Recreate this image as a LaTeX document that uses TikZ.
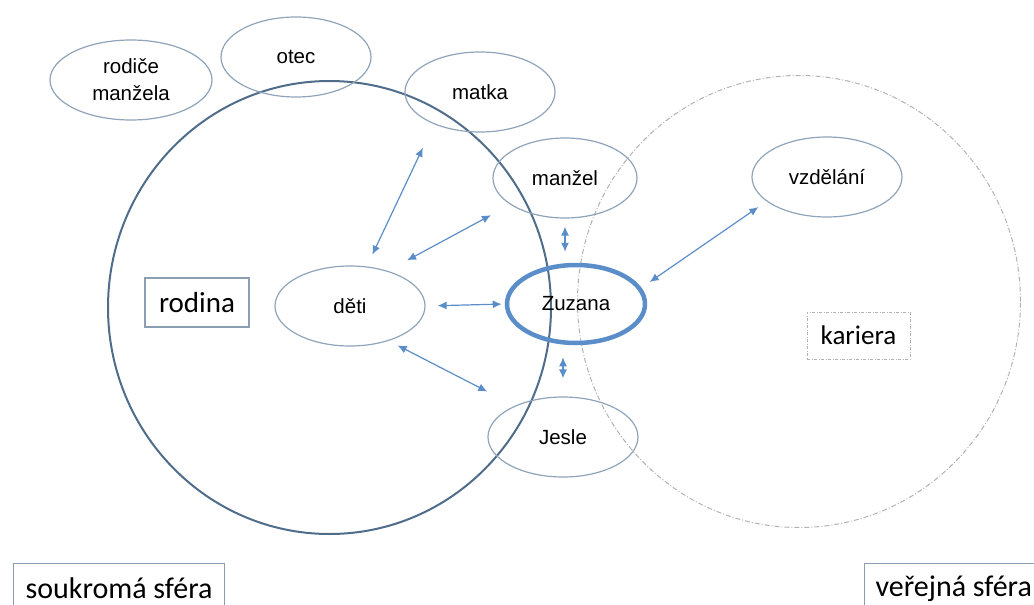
\documentclass[tikz,border=0pt]{standalone}
\usepackage{fontspec}
\setmainfont{Liberation Sans}
\newfontfamily\boxfont{Carlito}
\usetikzlibrary{arrows.meta, shapes.geometric}

\definecolor{ringblue}{HTML}{4F6D8A}
\definecolor{rimgray}{HTML}{8FA4BA}
\definecolor{linkblue}{HTML}{5B8EC8}
\definecolor{boxgray}{HTML}{8C9FB2}

\begin{document}
\begin{tikzpicture}[x=1pt, y=-1pt, font=\fontsize{20.5}{23.5}\selectfont]
\tikzset{every node/.style={inner sep=0pt}}

\tikzstyle{person}=[ellipse, draw=rimgray, line width=1.2pt, minimum width=150, minimum height=80, align=center]
\tikzstyle{me}=[ellipse, draw=linkblue, line width=4.5pt, minimum width=138, minimum height=78]
\tikzstyle{sphere}=[ellipse, draw=ringblue, line width=2pt, minimum width=443, minimum height=453]
\tikzstyle{outer}=[ellipse, draw=gray!60, line width=1pt, dash pattern=on 5pt off 2pt on 1pt off 2pt, minimum width=443, minimum height=452]
\tikzstyle{tag}=[draw=boxgray, line width=1.2pt, font=\boxfont\fontsize{29}{32}\selectfont]
\tikzstyle{link}=[{Latex[length=9pt,width=8pt]}-{Latex[length=9pt,width=8pt]}, color=linkblue, line width=1.2pt]

\useasboundingbox (0,0) rectangle (1034,605);
\clip (0,0) rectangle (1034,605);

\node[sphere] (family) at (329.5,307.5) {};
\node[outer] (public) at (799,301.5) {};

\node[person, minimum width=162, font=\fontsize{20.5}{27}\selectfont] (rodice) at (131,80) {rodiče\\manžela};
\node[person] (otec) at (296,57) {otec};
\node[person] (matka) at (480,92) {matka};
\node[person, minimum width=144] (manzel) at (565,178) {manžel};
\node[person] (vzdelani) at (827,177) {vzdělání};
\node[me] (zuzana) at (576,304) {Zuzana};
\node[person] (deti) at (350,306) {děti};
\node[person] (jesle) at (563,437) {Jesle};

\node[tag, minimum width=104, minimum height=49] (rodina) at (197,302.5) {rodina};
\node[tag, draw=gray!60, line width=1pt, dash pattern=on 3pt off 1.5pt on 1pt off 1.5pt, minimum width=103, minimum height=47, font=\boxfont\fontsize{27}{30}\selectfont] (kariera) at (858.5,335.5) {kariera};
\node[tag, anchor=north west, minimum width=211, minimum height=50, font=\boxfont\fontsize{30}{33}\selectfont] (soukroma) at (13,563) {soukromá sféra};
\node[tag, anchor=north west, inner xsep=11pt, minimum height=50, font=\boxfont\fontsize{30}{33}\selectfont] (verejna) at (864,563) {veřejná sféra};

\path[link] (deti.67) edge[shorten <=13pt, shorten >=26pt] (matka.215);
\path[link] (deti.43) edge[shorten <=22pt, shorten >=22pt] (manzel.206);
\path[link] (deti.east) edge[shorten <=12pt, shorten >=3pt] (zuzana.west);
\path[link] (deti.-42) edge[shorten <=10pt, shorten >=31pt] (jesle.147);
\path[link] (manzel.south) edge[shorten <=8pt, shorten >=11pt] (manzel.south |- zuzana.north);
\path[link] (jesle.north |- zuzana.south) edge[shorten <=12pt, shorten >=18pt] (jesle.north);
\path[link] (zuzana.14) edge[shorten <=10pt, shorten >=10pt] (vzdelani.202);

\end{tikzpicture}
\end{document}
